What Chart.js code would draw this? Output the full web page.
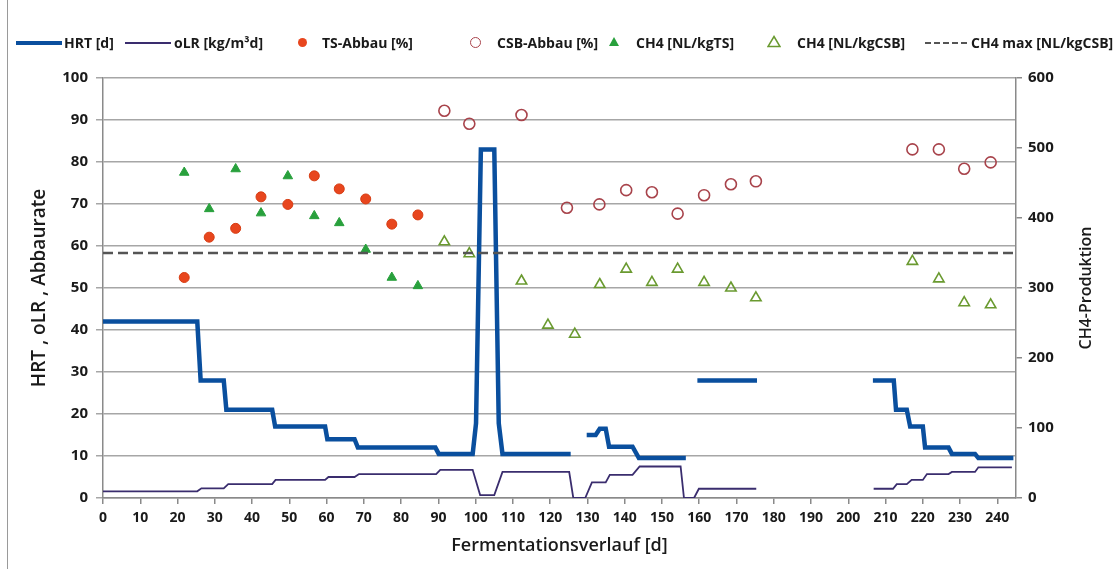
<!DOCTYPE html>
<html>
<head>
<meta charset="utf-8">
<script src="https://cdn.jsdelivr.net/npm/chart.js@4"></script>
<style>
  body { margin: 0; background: #fff; }
  #wrap { position: relative; width: 1120px; height: 569px; overflow: hidden; }
  #frame { position: absolute; left: 7px; top: 0; width: 0; height: 569px; border-left: 1.5px solid #9a9a9a; }
  #legend { position: absolute; left: 0; top: 32px; width: 1120px; height: 22px;
    font-family: "Open Sans", sans-serif; font-weight: 700; font-size: 14px; color: #1a1a1a; }
  #legend span.t { position: absolute; top: 1px; white-space: nowrap; }
  .mk { position: absolute; }
  #chartBox { position: absolute; left: 0; top: 0; width: 1120px; height: 569px; }
</style>
</head>
<body>
<div id="wrap">
  <div id="frame"></div>
  <div id="chartBox"><canvas id="chart"></canvas></div>
  <div id="legend">
    <div class="mk" style="left:16px;top:9px;width:46px;border-top:4px solid #0a4f9e;"></div>
    <span class="t" style="left:64px">HRT [d]</span>
    <div class="mk" style="left:125px;top:10px;width:46px;border-top:2px solid #3a2d6e;"></div>
    <span class="t" style="left:174px">oLR [kg/m³d]</span>
    <div class="mk" style="left:298px;top:6px;width:9px;height:9px;border-radius:50%;background:#e8461e;"></div>
    <span class="t" style="left:322px">TS-Abbau [%]</span>
    <div class="mk" style="left:470px;top:5px;width:9px;height:9px;border-radius:50%;border:1.5px solid #a8434b;"></div>
    <span class="t" style="left:497px">CSB-Abbau [%]</span>
    <div class="mk" style="left:609px;top:5px;width:0;height:0;border-left:5px solid transparent;border-right:5px solid transparent;border-bottom:9px solid #28a03c;"></div>
    <span class="t" style="left:636px">CH4 [NL/kgTS]</span>
    <svg class="mk" style="left:767px;top:3px" width="14" height="13"><polygon points="7,1.5 13,11.5 1,11.5" fill="none" stroke="#6a9a30" stroke-width="1.5"/></svg>
    <span class="t" style="left:797px">CH4 [NL/kgCSB]</span>
    <div class="mk" style="left:925px;top:10px;width:42px;border-top:2.5px dashed #555;"></div>
    <span class="t" style="left:971px">CH4 max [NL/kgCSB]</span>
  </div>
</div>
<script>
// x-Werte in Tagen
const hrtDays = [0, 25.3, 26.2, 32.4, 33.1, 45.4, 46.2, 59.6, 60.2, 67.5, 68.4, 89.2, 90.1, 99.2, 100.1, 101.4, 105, 106.2, 107.2, 125.5,
  127, 129.8, 132.2, 133.3, 134.9, 135.8, 142.1, 143.8, 156.4,
  158, 159.5, 175.5,
  190, 206.6, 212.2, 212.8, 215.7, 216.6, 220, 220.6, 226.9, 227.8, 234, 234.9, 244.3];
const hrtValues = [42, 42, 28, 28, 21, 21, 17, 17, 14, 14, 12, 12, 10.5, 10.5, 17.8, 83, 83, 17.8, 10.5, 10.5,
  null, 15, 15, 16.5, 16.5, 12.2, 12.2, 9.5, 9.5,
  null, 28, 28,
  null, 28, 28, 21, 21, 17, 17, 12, 12, 10.5, 10.5, 9.5, 9.5];

const olrDays = [0, 25.3, 26.4, 32.4, 33.6, 45.4, 46.3, 59.6, 60.5, 67.5, 68.7, 89.4, 90.5, 99.2, 101.2, 105, 107.2, 125.1, 126.2, 129.4,
  131.2, 134.9, 136, 142.1, 144, 155, 155.9, 158.6, 159.9, 175.3,
  190, 206.8, 212, 213, 215.7, 217, 220, 221.1, 226.9, 227.8, 234, 234.9, 243.9];
const olrValues = [1.6, 1.6, 2.3, 2.3, 3.3, 3.3, 4.3, 4.3, 5.0, 5.0, 5.7, 5.7, 6.7, 6.7, 0.7, 0.7, 6.2, 6.2, 0, 0,
  3.7, 3.7, 5.5, 5.5, 7.5, 7.5, 0, 0, 2.2, 2.2,
  null, 2.2, 2.2, 3.3, 3.3, 4.3, 4.3, 5.7, 5.7, 6.2, 6.2, 7.3, 7.3];

const tsDays = [21.8, 28.5, 35.6, 42.4, 49.6, 56.7, 63.4, 70.5, 77.5, 84.5];
const tsAbbau = [52.5, 62.1, 64.2, 71.7, 69.9, 76.7, 73.6, 71.2, 65.2, 67.4];
const ch4TS = [465, 413, 470, 407, 460, 403, 393, 355, 315, 303];

const csbDays = [91.6, 98.3, 112.3, 124.5, 133.2, 140.4, 147.3, 154.2, 161.3, 168.5, 175.2, 217.2, 224.3, 231.1, 238.2];
const csbAbbau = [92.2, 89.1, 91.2, 69.1, 69.9, 73.3, 72.8, 67.7, 72.1, 74.7, 75.4, 83.0, 83.0, 78.4, 79.9];

const ch4CsbDays = [91.6, 98.3, 112.3, 119.4, 126.6, 133.3, 140.4, 147.3, 154.2, 161.3, 168.5, 175.2, 217.2, 224.3, 231.1, 238.2];
const ch4CSB = [366, 349, 310, 247, 234, 305, 327, 308, 327, 308, 300, 286, 338, 313, 279, 276];

const ch4MaxDays = [0, 245];
const ch4Max = [350, 350];

const xy = (xs, ys) => xs.map((x, i) => ({x: x, y: ys[i]}));

const tickFont = {family: '"Open Sans", sans-serif', size: 14, weight: '700'};
const titleFont = {family: '"Open Sans", sans-serif', size: 18, weight: '600'};

// rechter Achsentitel, von unten nach oben gelesen
const rightTitle = {
    id: 'rightTitle',
    afterDraw(chart) {
        const ctx = chart.ctx;
        const y2 = chart.scales.y2;
        ctx.save();
        ctx.translate(1086, (y2.top + y2.bottom) / 2);
        ctx.rotate(-Math.PI / 2);
        ctx.font = '600 16px "Open Sans", sans-serif';
        ctx.fillStyle = '#1a1a1a';
        ctx.textAlign = 'center';
        ctx.textBaseline = 'middle';
        ctx.fillText('CH4-Produktion', 0, 0);
        ctx.restore();
    }
};

const ctx = document.getElementById('chart').getContext('2d');
const chart = new Chart(ctx, {
    type: 'scatter',
    data: {
        datasets: [{
            label: 'CH4 max [NL/kgCSB]',
            data: xy(ch4MaxDays, ch4Max),
            yAxisID: 'y2',
            showLine: true,
            borderColor: '#555',
            borderWidth: 2.5,
            borderDash: [10, 5],
            pointRadius: 0,
            order: 0,
        }, {
            label: 'TS-Abbau [%]',
            data: xy(tsDays, tsAbbau),
            yAxisID: 'y',
            pointStyle: 'circle',
            pointRadius: 5,
            backgroundColor: '#e8461e',
            borderColor: '#d63c12',
            borderWidth: 1,
            order: 1,
        }, {
            label: 'CSB-Abbau [%]',
            data: xy(csbDays, csbAbbau),
            yAxisID: 'y',
            pointStyle: 'circle',
            pointRadius: 5.5,
            backgroundColor: 'rgba(255,255,255,0)',
            borderColor: '#a8434b',
            borderWidth: 1.6,
            order: 1,
        }, {
            label: 'CH4 [NL/kgTS]',
            data: xy(tsDays, ch4TS),
            yAxisID: 'y2',
            pointStyle: 'triangle',
            pointRadius: 5.5,
            backgroundColor: '#28a03c',
            borderColor: '#28a03c',
            borderWidth: 1,
            order: 1,
        }, {
            label: 'CH4 [NL/kgCSB]',
            data: xy(ch4CsbDays, ch4CSB),
            yAxisID: 'y2',
            pointStyle: 'triangle',
            pointRadius: 6,
            backgroundColor: 'rgba(255,255,255,0)',
            borderColor: '#6a9a30',
            borderWidth: 1.6,
            order: 1,
        }, {
            label: 'HRT [d]',
            data: xy(hrtDays, hrtValues),
            yAxisID: 'y',
            showLine: true,
            spanGaps: false,
            borderColor: '#0a4f9e',
            borderWidth: 4.5,
            pointRadius: 0,
            order: 2,
        }, {
            label: 'oLR [kg/m³d]',
            data: xy(olrDays, olrValues),
            yAxisID: 'y',
            showLine: true,
            spanGaps: false,
            borderColor: '#3a2d6e',
            borderWidth: 1.8,
            pointRadius: 0,
            order: 2,
        }]
    },
    options: {
        responsive: true,
        maintainAspectRatio: false,
        animation: false,
        layout: {
            padding: {left: 25, right: 21, top: 78, bottom: 9}
        },
        plugins: {
            legend: {display: false},
            tooltip: {enabled: false},
            title: {display: false},
        },
        scales: {
            x: {
                type: 'linear',
                min: 0,
                max: 245,
                afterFit: s => { s.height = 62; },
                ticks: {stepSize: 10, includeBounds: false, autoSkip: false, maxRotation: 0, padding: 6, color: '#1a1a1a', font: tickFont},
                grid: {drawOnChartArea: false, drawTicks: true, tickLength: 6, color: '#8a8a8a', lineWidth: 1.5},
                border: {color: '#8a8a8a', width: 1.5},
                title: {display: true, text: 'Fermentationsverlauf [d]', color: '#1a1a1a', font: titleFont, padding: {top: 2, bottom: 3}},
            },
            y: {
                position: 'left',
                min: 0,
                max: 100,
                afterFit: s => { s.width = 78; },
                ticks: {stepSize: 10, padding: 8, color: '#1a1a1a', font: {family: '"Open Sans", sans-serif', size: 15, weight: '700'}},
                grid: {color: '#a6a6a6', lineWidth: 1.5, tickLength: 7},
                border: {color: '#8a8a8a', width: 1.5},
                title: {display: true, text: 'HRT , oLR , Abbaurate', color: '#1a1a1a', font: {family: '"Open Sans", sans-serif', size: 19, weight: '600'}, padding: {top: 3, bottom: 4}},
            },
            y2: {
                position: 'right',
                min: 0,
                max: 600,
                afterFit: s => { s.width = 83; },
                ticks: {stepSize: 100, padding: 6, color: '#1a1a1a', font: {family: '"Open Sans", sans-serif', size: 15, weight: '700'}},
                grid: {drawOnChartArea: false, tickLength: 6, color: '#8a8a8a', lineWidth: 1.5},
                border: {color: '#8a8a8a', width: 1.5},
            }
        }
    },
    plugins: [rightTitle]
});
</script>
</body>
</html>
